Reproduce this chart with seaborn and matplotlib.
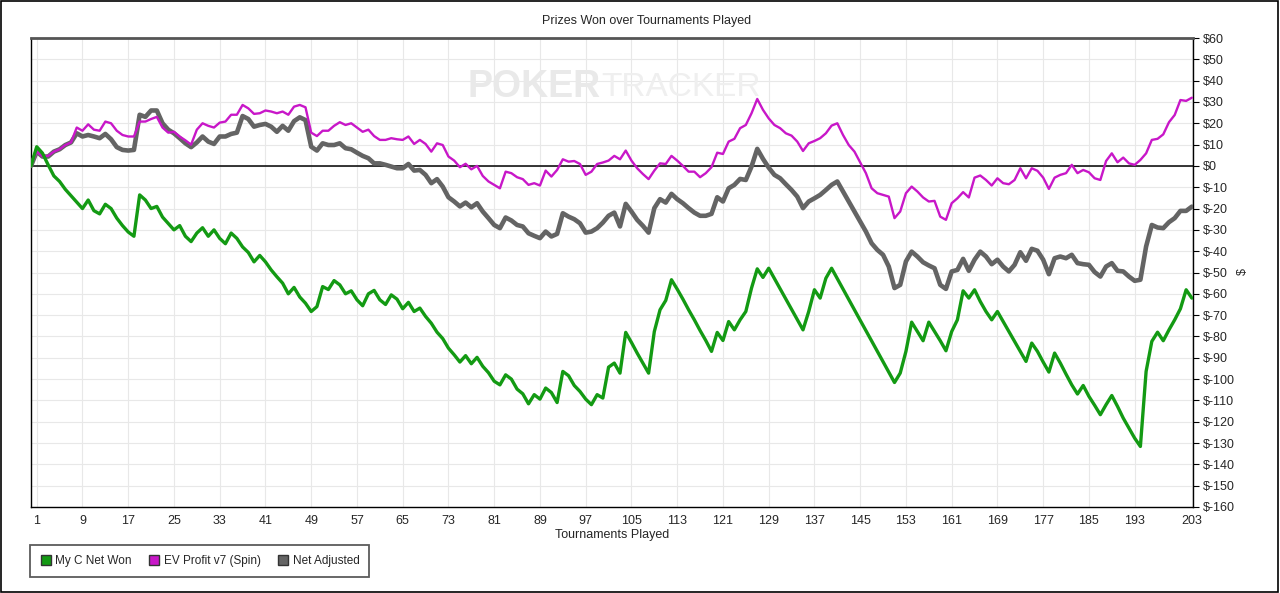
import numpy as np
import pandas as pd
import matplotlib
matplotlib.use("Agg")
import matplotlib.pyplot as plt
from matplotlib.lines import Line2D
from matplotlib.patches import Rectangle
import seaborn as sns

# tournament index 0..203 (0 = start)
tournaments = list(range(0, 204))

net_won = [
    0, 9, 6, 0.5, -4.7, -7.3, -11, -14, -17, -20,
    -16, -21, -22.5, -18, -20, -24.5, -28, -31, -33, -13.6,
    -16, -20, -19, -24, -27, -30, -28, -33, -35.5, -31.5,
    -29, -33, -30, -34, -36.5, -31.5, -34, -38, -40.6, -45,
    -42, -45, -48.8, -52, -55, -60, -57, -61.5, -64.4, -68.3,
    -66, -56.6, -58, -53.8, -55.8, -60, -58.6, -62.8, -65.6, -60,
    -58.4, -62.8, -65, -60.5, -62.5, -67, -64, -68.3, -66.7, -70.6,
    -73.8, -78, -81, -85.5, -88.6, -92, -89, -92.8, -89.8, -94,
    -97, -101, -102.7, -98, -100, -104.7, -106.9, -111.6, -107.3, -109.4,
    -104.2, -106.3, -111, -96.4, -98.4, -103, -105.8, -109.4, -112, -107.3,
    -108.9, -94.4, -92.5, -97.2, -78.1, -82.8, -87.8, -92.5, -97.2, -77.7,
    -67.5, -63.1, -53.4, -57.8, -62.5, -67.5, -72.2, -77.2, -81.9, -87,
    -78.1, -81.9, -73, -76.9, -72.2, -68.3, -57.3, -48.3, -52.3, -48,
    -52.8, -57.6, -62.4, -67.2, -72, -76.9, -68.3, -58.1, -62, -52.7,
    -48, -52.9, -57.7, -62.6, -67.5, -72.4, -77.2, -82.1, -87, -91.8,
    -96.7, -101.6, -97.2, -87, -73.3, -77.7, -82, -73.3, -77.7, -82,
    -86.7, -77.7, -72.2, -58.6, -62, -58.1, -63.6, -68.3, -72.2, -68.3,
    -73, -77.7, -82.3, -87, -91.7, -83.1, -87, -92, -96.7, -87.8,
    -92.5, -97.7, -102.7, -107, -103, -108.1, -112.3, -116.7, -112, -107.7,
    -112.8, -118.3, -123, -127.7, -131.6, -96.4, -82.3, -78, -82, -76.9,
    -72.2, -67, -58.1, -62,
]

ev_profit = [
    0, 6.7, 4.4, 4.7, 6.7, 7.8, 9.8, 11, 18, 16.5,
    19.5, 17, 16.5, 20.8, 20, 16.5, 14.5, 13.8, 13.8, 20.8,
    20.8, 22, 23, 18, 15.6, 16, 13.8, 12, 10, 17,
    20, 18.8, 18, 20.3, 20.8, 24, 24, 28.6, 27, 24.4,
    24.7, 26, 25.5, 24.7, 25.5, 24, 27.8, 28.6, 27.5, 15.6,
    14, 16.5, 16.5, 18.8, 20.5, 19.2, 20, 18, 16, 17,
    14, 12.2, 12.2, 13, 12.5, 12.2, 13.8, 10.3, 12.2, 10.3,
    6.7, 10.6, 9.8, 4.4, 2.5, -0.6, 1, -1.6, 0, -4.7,
    -7.3, -8.9, -10.5, -2.7, -3.4, -5.3, -6.2, -8.9, -8.1, -9.2,
    -2.2, -5, -1.9, 3.1, 2, 2.3, 0.9, -4.2, -2.7, 0.9,
    1.6, 2.5, 4.7, 3.1, 7.2, 2.5, -1.1, -3.8, -6.2, -2.2,
    1.2, 0.9, 4.7, 2.5, 0, -2.7, -2.7, -5.3, -3.4, -0.6,
    6.2, 5.6, 11.4, 12.7, 17.7, 19.2, 24.7, 31.4, 26.3, 22.3,
    19.2, 17.7, 15.3, 14.2, 11.4, 7, 10.6, 11.7, 13, 15.3,
    18.9, 20, 14.5, 9.8, 6.7, 1.7, -3.4, -10.5, -12.8, -13.6,
    -14.4, -24.5, -21.4, -12.8, -9.7, -12, -14.8, -16.7, -16.4, -23.8,
    -25.3, -17.5, -15.2, -12.3, -14.8, -5.5, -4.5, -6.6, -9.2, -5.8,
    -8.1, -8.6, -6.6, -1.1, -5.8, -1.1, -2.3, -5.5, -10.8, -5.5,
    -4.2, -3.4, 0.5, -3.4, -1.9, -3, -5.8, -6.6, 2.3, 5.9,
    1.7, 3.9, 1.2, 0.5, 2.8, 5.9, 12.2, 12.7, 14.8, 20.5,
    23.9, 30.9, 30.5, 32,
]

net_adjusted = [
    0, 6.7, 4.4, 4.4, 6.7, 7.8, 9.8, 11, 15.3, 13.8,
    14.5, 13.8, 13, 15, 12.5, 8.8, 7.5, 7.2, 7.5, 24,
    23, 26, 26, 20, 17, 15.3, 13, 10.6, 8.8, 11,
    13.8, 11.4, 10.3, 13.8, 13.8, 15, 15.6, 23.4, 22, 18.4,
    19.2, 19.7, 18.4, 16, 18.8, 16.5, 21, 22.8, 21.5, 9,
    7.2, 10.6, 9.8, 9.8, 10.6, 8.3, 7.8, 6.2, 4.7, 3.6,
    1.2, 1.2, 0.5, -0.3, -1.1, -1.1, 0.9, -2.2, -1.9, -4.2,
    -8.1, -6.2, -9.7, -14.7, -16.7, -19, -17.2, -19.4, -17.5, -21.4,
    -24.5, -27.7, -29.2, -24.2, -25.6, -27.7, -28.4, -31.6, -32.8, -33.9,
    -30.8, -33.1, -31.9, -22.2, -23.8, -25, -26.9, -31.3, -30.8, -29.2,
    -26.6, -23.4, -21.9, -28.4, -17.8, -21.4, -25.3, -28.1, -31.3, -19.8,
    -15.6, -17.2, -13.1, -15.6, -17.5, -19.8, -21.9, -23.4, -23.4, -22.5,
    -14.7, -16.7, -10.5, -8.9, -6.1, -6.6, -0.3, 8, 3.3, -0.8,
    -4.2, -5.8, -8.6, -11.3, -14.4, -19.8, -16.7, -15.2, -13.6, -11.3,
    -8.9, -7.3, -12, -16.7, -21.4, -26.1, -30.8, -36.3, -39.4, -41.7,
    -47.2, -57.3, -55.8, -44.8, -40.2, -42.5, -45.2, -46.7, -48, -55.8,
    -57.7, -49.5, -48.8, -43.6, -49.2, -44, -40.2, -42.5, -46.1, -44,
    -47.2, -49.5, -46.4, -40.5, -44.5, -38.9, -39.8, -44, -50.8, -43.3,
    -42.5, -43.3, -41.7, -45.6, -46.1, -46.4, -49.8, -51.9, -47.2, -45.6,
    -49.2, -49.5, -51.9, -53.9, -53.4, -37.8, -27.7, -28.9, -29.2, -26.4,
    -24.5, -21.1, -21.1, -19.1,
]

x_ticks = [1, 9, 17, 25, 33, 41, 49, 57, 65, 73, 81, 89, 97, 105, 113,
           121, 129, 137, 145, 153, 161, 169, 177, 185, 193, 203]
y_ticks = list(range(-160, 61, 10))

series_names = ["My C Net Won", "EV Profit v7 (Spin)", "Net Adjusted"]
series_colors = ["#139a13", "#c817c8", "#646464"]

df = pd.DataFrame({
    "Tournament": tournaments,
    "My C Net Won": net_won,
    "EV Profit v7 (Spin)": ev_profit,
    "Net Adjusted": net_adjusted,
})

sns.set_style("white")
plt.rcParams["font.family"] = ["Liberation Sans", "DejaVu Sans"]

W, H = 1280, 593
fig = plt.figure(figsize=(W / 100, H / 100), dpi=100)
ax = fig.add_axes([31 / W, 1 - 507 / H, (1193 - 31) / W, (507 - 38) / H])

ax.grid(True, color="#e8e8e8", lw=0.8, zorder=0)
ax.set_axisbelow(True)
ax.axhline(0, color="black", lw=1.1, zorder=2)

# watermark
ax.text(467 / W, 1 - 87 / H, "POKER", transform=fig.transFigure, fontsize=27,
        fontweight="bold", color="#e9e9e9", va="center", ha="left", zorder=1)
ax.text(601 / W, 1 - 87 / H, "TRACKER", transform=fig.transFigure, fontsize=24,
        color="#efefef", va="center", ha="left", zorder=1)

sns.lineplot(data=df, x="Tournament", y="Net Adjusted", color=series_colors[2],
             lw=3.3, ax=ax, zorder=3)
sns.lineplot(data=df, x="Tournament", y="EV Profit v7 (Spin)", color=series_colors[1],
             lw=1.7, ax=ax, zorder=4)
sns.lineplot(data=df, x="Tournament", y="My C Net Won", color=series_colors[0],
             lw=2.4, ax=ax, zorder=5)

ax.set_xlim(0, 203.2)
ax.set_ylim(-160, 60)
ax.set_xticks(x_ticks)
ax.set_yticks(y_ticks)
ax.set_yticklabels([f"${v}" for v in y_ticks])
ax.yaxis.tick_right()
ax.tick_params(axis="both", direction="out", length=4, width=0.8, color="black",
               labelsize=9)
ax.tick_params(axis="x", pad=1.5)
ax.tick_params(axis="y", pad=3)
ax.set_xlabel("")
ax.set_ylabel("")

for side in ["left", "bottom", "right"]:
    ax.spines[side].set_visible(True)
    ax.spines[side].set_color("black")
    ax.spines[side].set_linewidth(1)
ax.spines["top"].set_color("#555555")
ax.spines["top"].set_linewidth(2)

fig.text(647 / W, 1 - 21 / H, "Prizes Won over Tournaments Played", ha="center",
         va="center", fontsize=9)
fig.text(612 / W, 1 - 535 / H, "Tournaments Played", ha="center", va="center",
         fontsize=9)
fig.text(1243 / W, 1 - 272 / H, "$", ha="center", va="center", rotation=90,
         fontsize=9)

handles = [Line2D([], [], ls="none", marker="s", markersize=7, markerfacecolor=c,
                  markeredgecolor="#333333", label=n)
           for n, c in zip(series_names, series_colors)]
leg = fig.legend(handles=handles, loc="upper left", bbox_to_anchor=(30 / W, 1 - 545 / H),
                 ncol=3, frameon=True, fancybox=False, edgecolor="#333333",
                 fontsize=8.5, handletextpad=0.3, columnspacing=1.4, borderpad=0.85,
                 handlelength=1.0, borderaxespad=0)
leg.get_frame().set_linewidth(1.3)

fig.patches.append(Rectangle((0.5 / W, 1.5 / H), 1 - 2.5 / W, 1 - 2.5 / H,
                             transform=fig.transFigure, fill=False,
                             edgecolor="black", lw=1.2))

fig.savefig("out.png", dpi=100)
